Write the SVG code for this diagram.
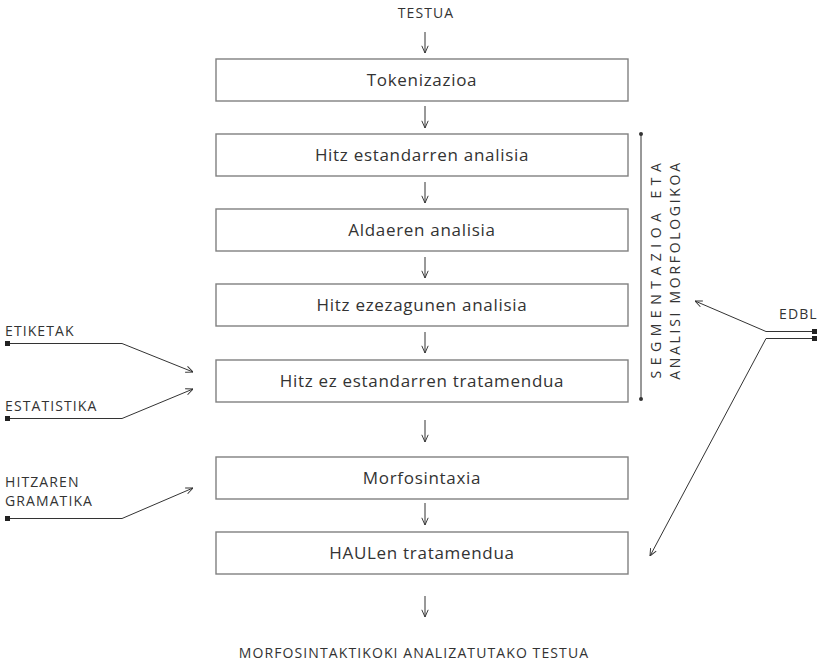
<svg xmlns="http://www.w3.org/2000/svg" width="824" height="663" viewBox="0 0 824 663">
<defs>
<style>
.box{fill:#fff;stroke:#808080;stroke-width:1.4}
.bt{font-family:"Open Sans","Noto Sans",sans-serif;font-size:17px;letter-spacing:0.7px;fill:#333;text-anchor:middle}
.lab{font-family:"Open Sans","Noto Sans",sans-serif;font-size:14px;letter-spacing:1.1px;fill:#333}
.ln{fill:none;stroke:#333;stroke-width:1}
.dn{fill:none;stroke:#333;stroke-width:1}
.sq{fill:#222}
</style>
<marker id="ah" viewBox="0 0 10 10" refX="10" refY="5" markerWidth="8" markerHeight="8" markerUnits="userSpaceOnUse" orient="auto">
<path d="M1,1 L10,5 L1,9" fill="none" stroke="#333" stroke-width="1.2"/>
</marker>
</defs>
<rect width="824" height="663" fill="#fff"/>
<text class="lab" x="426" y="18" text-anchor="middle">TESTUA</text>
<g id="n1"><rect class="box" x="216" y="59" width="412" height="42"/><text class="bt" x="422" y="86">Tokenizazioa</text></g>
<g id="n2"><rect class="box" x="216" y="134" width="412" height="42"/><text class="bt" x="422" y="161">Hitz estandarren analisia</text></g>
<g id="n3"><rect class="box" x="216" y="209" width="412" height="42"/><text class="bt" x="422" y="236">Aldaeren analisia</text></g>
<g id="n4"><rect class="box" x="216" y="284" width="412" height="42"/><text class="bt" x="422" y="311">Hitz ezezagunen analisia</text></g>
<g id="n5"><rect class="box" x="216" y="360" width="412" height="42"/><text class="bt" x="422" y="387">Hitz ez estandarren tratamendua</text></g>
<g id="n6"><rect class="box" x="216" y="457" width="412" height="42"/><text class="bt" x="422" y="484">Morfosintaxia</text></g>
<g id="n7"><rect class="box" x="216" y="532" width="412" height="42"/><text class="bt" x="422" y="559">HAULen tratamendua</text></g>
<text class="lab" x="414" y="658" text-anchor="middle">MORFOSINTAKTIKOKI ANALIZATUTAKO TESTUA</text>
<g id="bracket">
<line class="ln" x1="641" y1="134" x2="641" y2="399"/>
<circle cx="641" cy="134" r="2" fill="#333"/><circle cx="641" cy="399" r="2" fill="#333"/>
<text class="lab" transform="translate(661,268) rotate(-90)" text-anchor="middle" style="letter-spacing:5.5px;font-size:14px">SEGMENTAZIOA ETA</text>
<text class="lab" transform="translate(680,270) rotate(-90)" text-anchor="middle" style="letter-spacing:2.7px;font-size:14px">ANALISI MORFOLOGIKOA</text>
</g>
<g id="sources">
<text class="lab" x="5" y="336">ETIKETAK</text>
<text class="lab" x="5" y="411">ESTATISTIKA</text>
<text class="lab" x="5" y="487">HITZAREN</text>
<text class="lab" x="5" y="506">GRAMATIKA</text>
<text class="lab" x="779" y="319">EDBL</text>
<rect class="sq" x="5" y="341" width="5" height="5"/>
<rect class="sq" x="5" y="416" width="5" height="5"/>
<rect class="sq" x="5" y="516" width="5" height="5"/>
<rect class="sq" x="812" y="329" width="5" height="5"/>
<rect class="sq" x="812" y="336" width="5" height="5"/>
</g>
<g id="connectors">
<line class="dn" x1="425" y1="32" x2="425" y2="53" marker-end="url(#ah)"/>
<line class="dn" x1="425" y1="106" x2="425" y2="128" marker-end="url(#ah)"/>
<line class="dn" x1="425" y1="182" x2="425" y2="203" marker-end="url(#ah)"/>
<line class="dn" x1="425" y1="257" x2="425" y2="278" marker-end="url(#ah)"/>
<line class="dn" x1="425" y1="332" x2="425" y2="353" marker-end="url(#ah)"/>
<line class="dn" x1="425" y1="420" x2="425" y2="442" marker-end="url(#ah)"/>
<line class="dn" x1="425" y1="503" x2="425" y2="525" marker-end="url(#ah)"/>
<line class="dn" x1="425" y1="596" x2="425" y2="617" marker-end="url(#ah)"/>
<polyline class="ln" points="10,343.5 122,343.5 193,372" marker-end="url(#ah)"/>
<polyline class="ln" points="10,418.5 122,418.5 193,389" marker-end="url(#ah)"/>
<polyline class="ln" points="10,518.5 122,518.5 193,488" marker-end="url(#ah)"/>
<polyline class="ln" points="812,331.5 766,331.5 695,301" marker-end="url(#ah)"/>
<polyline class="ln" points="812,338.5 766,338.5 650,556" marker-end="url(#ah)"/>
</g>
</svg>
